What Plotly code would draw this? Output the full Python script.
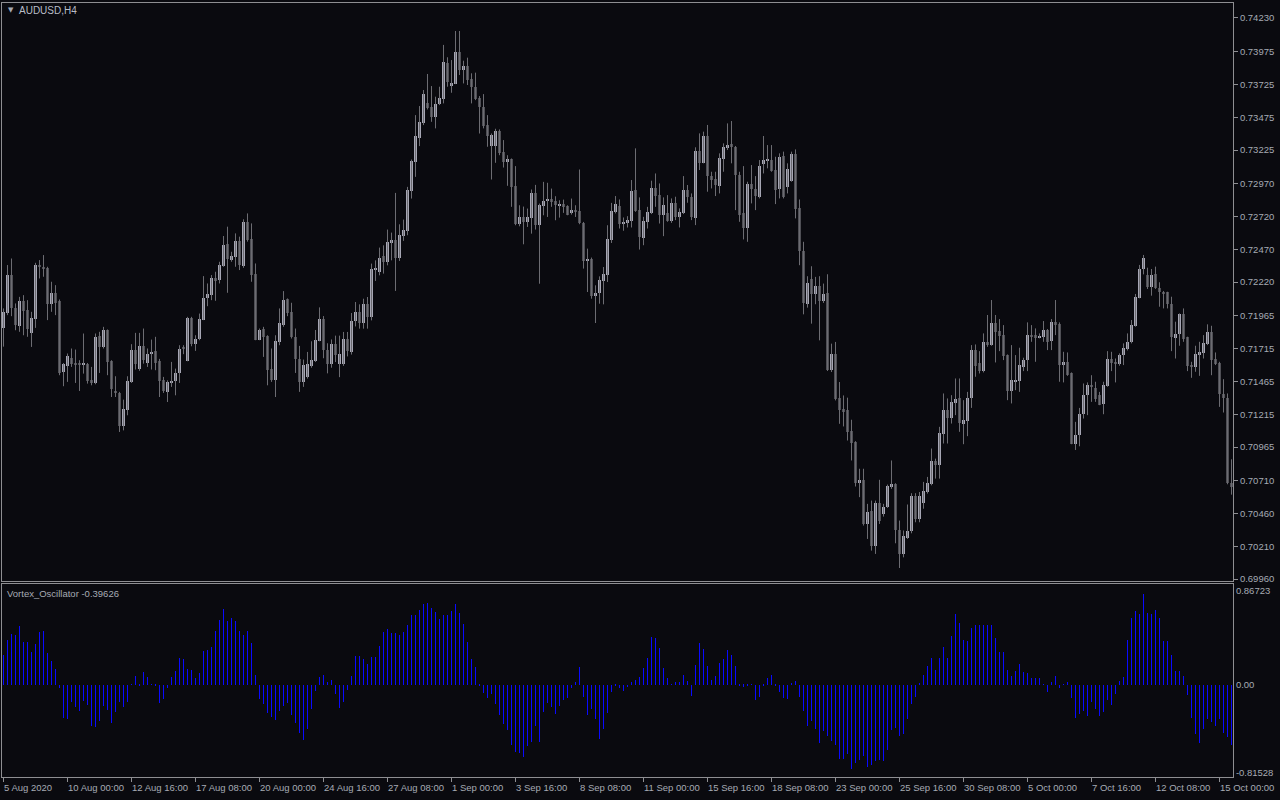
import plotly.graph_objects as go

# ---------------- data (AUDUSD H4, 5 Aug 2020 08:00 -> 15 Oct 2020) ----------------
open_ = [
 0.71873, 0.71987, 0.72274, 0.72020, 0.71885, 0.72075, 0.72007, 0.71834, 0.71938, 0.72342,
 0.72329, 0.72329, 0.72053, 0.72134, 0.72078, 0.71537, 0.71583, 0.71646, 0.71608, 0.71595,
 0.71590, 0.71600, 0.71473, 0.71453, 0.71809, 0.71727, 0.71854, 0.71618, 0.71379, 0.71379,
 0.71123, 0.71250, 0.71461, 0.71702, 0.71557, 0.71732, 0.71608, 0.71672, 0.71694, 0.71618,
 0.71473, 0.71385, 0.71458, 0.71466, 0.71529, 0.71717, 0.71618, 0.71951, 0.71748, 0.71786,
 0.71931, 0.72101, 0.72121, 0.72248, 0.72235, 0.72342, 0.72510, 0.72388, 0.72408, 0.72533,
 0.72342, 0.72677, 0.72548, 0.72281, 0.71783, 0.71862, 0.71809, 0.71557, 0.71473, 0.71766,
 0.71893, 0.72088, 0.71994, 0.71804, 0.71633, 0.71461, 0.71499, 0.71583, 0.71620, 0.71775,
 0.71942, 0.71704, 0.71597, 0.71749, 0.71600, 0.71597, 0.71784, 0.71692, 0.71921, 0.71990,
 0.71909, 0.72056, 0.71954, 0.72313, 0.72297, 0.72417, 0.72374, 0.72518, 0.72539, 0.72404,
 0.72569, 0.72610, 0.72915, 0.73136, 0.73318, 0.73433, 0.73580, 0.73550, 0.73478, 0.73572,
 0.73616, 0.73887, 0.73715, 0.73730, 0.73971, 0.73834, 0.73865, 0.73765, 0.73707, 0.73623,
 0.73550, 0.73415, 0.73255, 0.73255, 0.73369, 0.73209, 0.73135, 0.73156, 0.72950, 0.72661,
 0.72716, 0.72678, 0.72711, 0.72899, 0.72658, 0.72803, 0.72838, 0.72856, 0.72836, 0.72800,
 0.72813, 0.72798, 0.72747, 0.72772, 0.72760, 0.72673, 0.72381, 0.72394, 0.72114, 0.72137,
 0.72229, 0.72272, 0.72539, 0.72755, 0.72798, 0.72661, 0.72671, 0.72687, 0.72920, 0.72768,
 0.72557, 0.72679, 0.72748, 0.72933, 0.72882, 0.72730, 0.72743, 0.72687, 0.72826, 0.72712,
 0.72748, 0.72920, 0.72865, 0.72710, 0.73218, 0.73129, 0.73332, 0.73030, 0.73004, 0.72953,
 0.73157, 0.73243, 0.73271, 0.73251, 0.73035, 0.72748, 0.72633, 0.72966, 0.72925, 0.72870,
 0.73119, 0.73149, 0.73149, 0.73073, 0.72928, 0.73179, 0.72946, 0.72991, 0.73195, 0.72781,
 0.72458, 0.72052, 0.72247, 0.72128, 0.72191, 0.72077, 0.72138, 0.71549, 0.71676, 0.71341,
 0.71252, 0.71244, 0.71087, 0.71003, 0.70690, 0.70718, 0.70380, 0.70482, 0.70210, 0.70540,
 0.70457, 0.70507, 0.70660, 0.70685, 0.70335, 0.70152, 0.70271, 0.70325, 0.70596, 0.70419,
 0.70540, 0.70623, 0.70682, 0.70857, 0.70827, 0.71063, 0.71246, 0.71187, 0.71304, 0.71335,
 0.71144, 0.71164, 0.71342, 0.71703, 0.71601, 0.71543, 0.71761, 0.71741, 0.71906, 0.71848,
 0.71817, 0.71665, 0.71393, 0.71467, 0.71467, 0.71576, 0.71627, 0.71817, 0.71817, 0.71797,
 0.71802, 0.71855, 0.71771, 0.71914, 0.71898, 0.71596, 0.71609, 0.71525, 0.70987, 0.71055,
 0.71220, 0.71360, 0.71437, 0.71418, 0.71360, 0.71291, 0.71429, 0.71639, 0.71614, 0.71596,
 0.71665, 0.71711, 0.71761, 0.71886, 0.72102, 0.72320, 0.72274, 0.72186, 0.72279, 0.72178,
 0.72142, 0.72142, 0.72053, 0.71797, 0.71822, 0.71975, 0.71799, 0.71589, 0.71576, 0.71665,
 0.71683, 0.71749, 0.71838, 0.71632, 0.71601, 0.71368, 0.71340, 0.70695,
]

high = [
 0.72020, 0.72350, 0.72400, 0.72058, 0.72108, 0.72121, 0.72083, 0.71994, 0.72367, 0.72388,
 0.72426, 0.72337, 0.72223, 0.72197, 0.72088, 0.71605, 0.71677, 0.71715, 0.71707, 0.71626,
 0.71829, 0.71605, 0.71575, 0.71829, 0.71842, 0.71880, 0.71860, 0.71626, 0.71504, 0.71385,
 0.71326, 0.71504, 0.71748, 0.71834, 0.71834, 0.71867, 0.71715, 0.71783, 0.71804, 0.71636,
 0.71499, 0.71473, 0.71613, 0.71562, 0.71740, 0.71740, 0.71956, 0.71956, 0.71816, 0.71981,
 0.72266, 0.72210, 0.72274, 0.72299, 0.72375, 0.72571, 0.72642, 0.72451, 0.72591, 0.72566,
 0.72698, 0.72743, 0.72667, 0.72362, 0.71867, 0.71880, 0.71816, 0.71715, 0.71816, 0.72020,
 0.72152, 0.72096, 0.72063, 0.71867, 0.71735, 0.71631, 0.71689, 0.71770, 0.71856, 0.72028,
 0.71962, 0.71755, 0.71784, 0.71813, 0.71813, 0.71841, 0.71841, 0.71985, 0.72069, 0.72051,
 0.72094, 0.72107, 0.72361, 0.72386, 0.72483, 0.72500, 0.72620, 0.72597, 0.72899, 0.72660,
 0.72696, 0.72945, 0.73153, 0.73491, 0.73560, 0.73682, 0.73804, 0.73712, 0.73631, 0.73707,
 0.74025, 0.73931, 0.73910, 0.74131, 0.74131, 0.73905, 0.73928, 0.73809, 0.73814, 0.73636,
 0.73651, 0.73491, 0.73351, 0.73387, 0.73382, 0.73301, 0.73186, 0.73161, 0.73103, 0.72805,
 0.72795, 0.72780, 0.72925, 0.72960, 0.72818, 0.72983, 0.72976, 0.72932, 0.72874, 0.72843,
 0.72848, 0.72805, 0.72856, 0.72805, 0.73077, 0.72678, 0.72475, 0.72407, 0.72196, 0.72264,
 0.72335, 0.72653, 0.72823, 0.72875, 0.72849, 0.72712, 0.72722, 0.72997, 0.73238, 0.72865,
 0.72717, 0.72793, 0.72992, 0.73047, 0.72971, 0.72865, 0.72882, 0.72857, 0.72870, 0.72781,
 0.73027, 0.72959, 0.72895, 0.73246, 0.73352, 0.73365, 0.73416, 0.73060, 0.73060, 0.73200,
 0.73276, 0.73428, 0.73446, 0.73256, 0.73060, 0.73103, 0.72984, 0.73111, 0.73027, 0.73149,
 0.73332, 0.73263, 0.73263, 0.73174, 0.73200, 0.73213, 0.73124, 0.73213, 0.73230, 0.72849,
 0.72527, 0.72265, 0.72341, 0.72260, 0.72265, 0.72209, 0.72280, 0.71752, 0.71765, 0.71460,
 0.71358, 0.71341, 0.71173, 0.71010, 0.70800, 0.70800, 0.70533, 0.70558, 0.70558, 0.70716,
 0.70533, 0.70680, 0.70863, 0.70690, 0.70406, 0.70330, 0.70528, 0.70614, 0.70614, 0.70623,
 0.70700, 0.70738, 0.70954, 0.70877, 0.71119, 0.71373, 0.71335, 0.71360, 0.71487, 0.71487,
 0.71322, 0.71385, 0.71741, 0.71746, 0.71695, 0.71830, 0.71970, 0.72084, 0.71970, 0.71939,
 0.71893, 0.71670, 0.71741, 0.71665, 0.71721, 0.71645, 0.71914, 0.71893, 0.71868, 0.71830,
 0.71924, 0.71863, 0.71939, 0.72084, 0.71914, 0.71690, 0.71685, 0.71533, 0.71157, 0.71263,
 0.71449, 0.71457, 0.71512, 0.71462, 0.71385, 0.71462, 0.71695, 0.71690, 0.71639, 0.71678,
 0.71754, 0.71830, 0.71932, 0.72130, 0.72351, 0.72427, 0.72330, 0.72320, 0.72338, 0.72219,
 0.72153, 0.72147, 0.72109, 0.71919, 0.71982, 0.72020, 0.71805, 0.71614, 0.71736, 0.71766,
 0.71817, 0.71899, 0.71888, 0.71685, 0.71614, 0.71482, 0.71373, 0.70872,
]

low = [
 0.71729, 0.71969, 0.71961, 0.71854, 0.71842, 0.71816, 0.71804, 0.71727, 0.71872, 0.72248,
 0.72261, 0.71931, 0.71994, 0.71969, 0.71512, 0.71428, 0.71461, 0.71575, 0.71453, 0.71392,
 0.71524, 0.71448, 0.71435, 0.71443, 0.71529, 0.71715, 0.71512, 0.71346, 0.71346, 0.71080,
 0.71092, 0.71207, 0.71453, 0.71555, 0.71545, 0.71600, 0.71575, 0.71555, 0.71550, 0.71346,
 0.71377, 0.71308, 0.71423, 0.71359, 0.71453, 0.71672, 0.71618, 0.71732, 0.71697, 0.71778,
 0.71931, 0.72037, 0.72083, 0.72078, 0.72210, 0.72337, 0.72139, 0.72375, 0.72337, 0.72312,
 0.72329, 0.72528, 0.72223, 0.71778, 0.71778, 0.71651, 0.71435, 0.71461, 0.71346, 0.71740,
 0.71880, 0.71961, 0.71791, 0.71529, 0.71385, 0.71423, 0.71486, 0.71569, 0.71612, 0.71770,
 0.71641, 0.71526, 0.71569, 0.71612, 0.71497, 0.71583, 0.71655, 0.71669, 0.71883, 0.71866,
 0.71866, 0.71866, 0.71929, 0.72229, 0.72272, 0.72285, 0.72348, 0.72386, 0.72153, 0.72381,
 0.72534, 0.72577, 0.72856, 0.73021, 0.73255, 0.73415, 0.73534, 0.73440, 0.73390, 0.73567,
 0.73580, 0.73707, 0.73661, 0.73727, 0.73796, 0.73732, 0.73720, 0.73580, 0.73605, 0.73351,
 0.73390, 0.73250, 0.73001, 0.73128, 0.73186, 0.73092, 0.72953, 0.72793, 0.72653, 0.72645,
 0.72508, 0.72640, 0.72589, 0.72620, 0.72208, 0.72729, 0.72716, 0.72793, 0.72691, 0.72711,
 0.72747, 0.72729, 0.72734, 0.72716, 0.72661, 0.72323, 0.72145, 0.72094, 0.71909, 0.72056,
 0.72051, 0.72221, 0.72518, 0.72743, 0.72628, 0.72611, 0.72636, 0.72636, 0.72755, 0.72468,
 0.72501, 0.72628, 0.72738, 0.72793, 0.72666, 0.72570, 0.72679, 0.72671, 0.72692, 0.72636,
 0.72738, 0.72824, 0.72692, 0.72654, 0.73073, 0.73124, 0.72908, 0.72933, 0.72875, 0.72895,
 0.73060, 0.73225, 0.73124, 0.72768, 0.72679, 0.72545, 0.72527, 0.72819, 0.72768, 0.72857,
 0.73047, 0.73086, 0.73060, 0.72814, 0.72857, 0.72857, 0.72895, 0.72984, 0.72705, 0.72349,
 0.71975, 0.72026, 0.71904, 0.72052, 0.71777, 0.72062, 0.71544, 0.71536, 0.71320, 0.71142,
 0.71122, 0.71015, 0.70863, 0.70665, 0.70584, 0.70368, 0.70266, 0.70177, 0.70152, 0.70380,
 0.70436, 0.70502, 0.70647, 0.70233, 0.70045, 0.70126, 0.70266, 0.70309, 0.70393, 0.70393,
 0.70496, 0.70611, 0.70674, 0.70725, 0.70725, 0.70992, 0.70992, 0.71144, 0.71208, 0.71081,
 0.70987, 0.71048, 0.71263, 0.71500, 0.71525, 0.71533, 0.71728, 0.71736, 0.71609, 0.71695,
 0.71627, 0.71322, 0.71297, 0.71398, 0.71385, 0.71543, 0.71543, 0.71766, 0.71614, 0.71792,
 0.71766, 0.71703, 0.71703, 0.71817, 0.71462, 0.71457, 0.71507, 0.70987, 0.70943, 0.70971,
 0.71182, 0.71208, 0.71309, 0.71309, 0.71284, 0.71215, 0.71424, 0.71543, 0.71457, 0.71584,
 0.71589, 0.71700, 0.71754, 0.71881, 0.72097, 0.72279, 0.72168, 0.72117, 0.72168, 0.72033,
 0.72020, 0.72020, 0.71695, 0.71639, 0.71736, 0.71766, 0.71543, 0.71492, 0.71538, 0.71507,
 0.71639, 0.71741, 0.71512, 0.71589, 0.71271, 0.71228, 0.70682, 0.70603,
]

close = [
 0.71995, 0.72274, 0.72020, 0.71893, 0.72075, 0.71999, 0.71860, 0.71951, 0.72350, 0.72337,
 0.72322, 0.72053, 0.72134, 0.72065, 0.71532, 0.71595, 0.71656, 0.71600, 0.71588, 0.71593,
 0.71600, 0.71466, 0.71453, 0.71804, 0.71727, 0.71854, 0.71613, 0.71405, 0.71377, 0.71123,
 0.71258, 0.71466, 0.71702, 0.71595, 0.71732, 0.71626, 0.71672, 0.71692, 0.71608, 0.71466,
 0.71390, 0.71461, 0.71471, 0.71529, 0.71715, 0.71712, 0.71948, 0.71748, 0.71791, 0.71938,
 0.72103, 0.72129, 0.72248, 0.72228, 0.72350, 0.72502, 0.72395, 0.72418, 0.72533, 0.72350,
 0.72677, 0.72540, 0.72274, 0.71783, 0.71854, 0.71804, 0.71550, 0.71473, 0.71771, 0.71910,
 0.72083, 0.71989, 0.71799, 0.71633, 0.71461, 0.71588, 0.71595, 0.71626, 0.71778, 0.71942,
 0.71704, 0.71597, 0.71749, 0.71669, 0.71675, 0.71784, 0.71698, 0.71927, 0.71990, 0.71909,
 0.72056, 0.71954, 0.72318, 0.72318, 0.72407, 0.72374, 0.72523, 0.72539, 0.72404, 0.72577,
 0.72615, 0.72920, 0.73141, 0.73331, 0.73438, 0.73651, 0.73542, 0.73478, 0.73575, 0.73621,
 0.73895, 0.73740, 0.73738, 0.73971, 0.73834, 0.73865, 0.73758, 0.73707, 0.73613, 0.73550,
 0.73407, 0.73334, 0.73339, 0.73369, 0.73199, 0.73135, 0.73156, 0.72945, 0.72666, 0.72716,
 0.72678, 0.72716, 0.72899, 0.72658, 0.72805, 0.72836, 0.72856, 0.72831, 0.72805, 0.72813,
 0.72793, 0.72732, 0.72772, 0.72752, 0.72671, 0.72381, 0.72394, 0.72114, 0.72140, 0.72234,
 0.72280, 0.72551, 0.72760, 0.72811, 0.72666, 0.72677, 0.72692, 0.72915, 0.72763, 0.72560,
 0.72684, 0.72750, 0.72933, 0.72875, 0.72730, 0.72806, 0.72687, 0.72819, 0.72712, 0.72750,
 0.72920, 0.72870, 0.72712, 0.73218, 0.73129, 0.73332, 0.73030, 0.72997, 0.72959, 0.73167,
 0.73251, 0.73263, 0.73246, 0.73035, 0.72730, 0.72633, 0.72966, 0.72925, 0.72875, 0.73103,
 0.73149, 0.73154, 0.73068, 0.72920, 0.73174, 0.72865, 0.73080, 0.73195, 0.72776, 0.72458,
 0.72062, 0.72217, 0.72128, 0.72189, 0.72077, 0.72133, 0.71554, 0.71676, 0.71333, 0.71244,
 0.71239, 0.71079, 0.70995, 0.70690, 0.70718, 0.70380, 0.70474, 0.70210, 0.70540, 0.70401,
 0.70512, 0.70667, 0.70685, 0.70335, 0.70152, 0.70292, 0.70330, 0.70596, 0.70419, 0.70593,
 0.70628, 0.70695, 0.70857, 0.70827, 0.71073, 0.71246, 0.71187, 0.71309, 0.71330, 0.71149,
 0.71170, 0.71342, 0.71703, 0.71584, 0.71543, 0.71761, 0.71741, 0.71906, 0.71843, 0.71812,
 0.71660, 0.71393, 0.71474, 0.71474, 0.71589, 0.71627, 0.71817, 0.71805, 0.71797, 0.71812,
 0.71855, 0.71766, 0.71914, 0.71893, 0.71589, 0.71609, 0.71512, 0.70987, 0.71060, 0.71220,
 0.71365, 0.71437, 0.71424, 0.71330, 0.71289, 0.71437, 0.71639, 0.71601, 0.71601, 0.71665,
 0.71716, 0.71766, 0.71893, 0.72104, 0.72320, 0.72401, 0.72186, 0.72274, 0.72178, 0.72142,
 0.72135, 0.72053, 0.71805, 0.71822, 0.71975, 0.71787, 0.71584, 0.71573, 0.71670, 0.71685,
 0.71754, 0.71838, 0.71627, 0.71596, 0.71368, 0.71340, 0.70692, 0.70661,
]

vortex = [
 0.276, 0.415, 0.471, 0.462, 0.543, 0.400, 0.394, 0.307, 0.378, 0.487,
 0.496, 0.295, 0.223, 0.146, -0.031, -0.310, -0.313, -0.155, -0.205, -0.242,
 -0.149, -0.189, -0.381, -0.388, -0.335, -0.195, -0.233, -0.350, -0.251, -0.158,
 -0.205, -0.155, 0.005, 0.078, -0.010, 0.115, 0.068, 0.004, -0.010, -0.171,
 -0.133, -0.034, 0.068, 0.130, 0.245, 0.239, 0.146, 0.140, 0.062, 0.105,
 0.316, 0.322, 0.353, 0.502, 0.601, 0.704, 0.586, 0.617, 0.586, 0.493,
 0.465, 0.496, 0.388, 0.093, -0.127, -0.180, -0.257, -0.295, -0.329, -0.242,
 -0.195, -0.171, -0.282, -0.350, -0.443, -0.512, -0.412, -0.226, -0.056, 0.068,
 0.090, 0.028, 0.043, -0.087, -0.211, -0.158, -0.047, 0.078, 0.264, 0.264,
 0.239, 0.192, 0.254, 0.254, 0.357, 0.487, 0.518, 0.481, 0.481, 0.465,
 0.487, 0.549, 0.648, 0.648, 0.694, 0.750, 0.760, 0.710, 0.673, 0.605,
 0.648, 0.642, 0.682, 0.744, 0.667, 0.564, 0.400, 0.239, 0.167, -0.005,
 -0.078, -0.118, -0.081, -0.174, -0.282, -0.366, -0.422, -0.558, -0.623, -0.629,
 -0.670, -0.567, -0.530, -0.381, -0.527, -0.251, -0.171, -0.205, -0.273, -0.195,
 -0.140, -0.118, -0.031, 0.022, 0.161, -0.112, -0.279, -0.220, -0.319, -0.499,
 -0.412, -0.264, -0.071, -0.010, -0.031, -0.056, -0.019, 0.022, 0.047, 0.074,
 0.155, 0.248, 0.440, 0.431, 0.341, 0.152, 0.062, 0.005, 0.022, 0.022,
 0.090, 0.037, -0.102, 0.183, 0.388, 0.332, 0.171, 0.043, 0.084, 0.202,
 0.239, 0.322, 0.279, 0.171, -0.005, -0.016, -0.003, 0.006, -0.140, -0.109,
 -0.009, 0.059, 0.090, -0.009, -0.065, -0.118, -0.127, 0.016, 0.031, -0.109,
 -0.242, -0.381, -0.335, -0.412, -0.536, -0.428, -0.474, -0.521, -0.561, -0.682,
 -0.682, -0.636, -0.778, -0.722, -0.691, -0.660, -0.760, -0.738, -0.707, -0.698,
 -0.701, -0.598, -0.422, -0.403, -0.474, -0.459, -0.313, -0.180, -0.109, 0.012,
 0.090, 0.171, 0.245, 0.140, 0.245, 0.347, 0.245, 0.450, 0.657, 0.574,
 0.415, 0.409, 0.524, 0.555, 0.549, 0.549, 0.549, 0.555, 0.431, 0.307,
 0.307, 0.140, 0.078, 0.124, 0.192, 0.115, 0.109, 0.062, 0.062, 0.062,
 0.005, -0.065, 0.022, 0.078, -0.025, 0.006, 0.022, -0.118, -0.304, -0.267,
 -0.242, -0.288, -0.158, -0.226, -0.288, -0.251, -0.140, -0.189, -0.087, 0.037,
 0.068, 0.415, 0.620, 0.682, 0.651, 0.843, 0.663, 0.651, 0.694, 0.617,
 0.409, 0.403, 0.276, 0.130, 0.124, 0.078, -0.096, -0.310, -0.459, -0.536,
 -0.406, -0.313, -0.344, -0.381, -0.319, -0.450, -0.484, -0.552,
]

price_ticks = [0.74230, 0.73975, 0.73725, 0.73475, 0.73225, 0.72970, 0.72720, 0.72470, 0.72220,
               0.71965, 0.71715, 0.71465, 0.71215, 0.70965, 0.70710, 0.70460, 0.70210, 0.69960]
osc_ticks = [0.86723, 0.0, -0.81528]
osc_tick_text = ["0.86723", "0.00", "-0.81528"]
time_tick_bars = [0, 16, 32, 48, 64, 80, 96, 112, 128, 144, 160, 176, 192, 208, 224, 240, 256, 272, 288, 304]
time_tick_text = ["5 Aug 2020", "10 Aug 00:00", "12 Aug 16:00", "17 Aug 08:00", "20 Aug 00:00",
                  "24 Aug 16:00", "27 Aug 08:00", "1 Sep 00:00", "3 Sep 16:00", "8 Sep 08:00",
                  "11 Sep 00:00", "15 Sep 16:00", "18 Sep 08:00", "23 Sep 00:00", "25 Sep 16:00",
                  "30 Sep 08:00", "5 Oct 00:00", "7 Oct 16:00", "12 Oct 08:00", "15 Oct 00:00"]
symbol_label = "AUDUSD,H4"
indicator_label = "Vortex_Oscillator -0.39626"

# ---------------- styling ----------------
BG = "#0a0a0f"
FRAME = "#8e8e92"
TXT = "#a6aab4"
WICK = "#6c6c72"
BULL = "#a6a6b4"
BEAR = "#4f4f55"
OSC = "#0a0aff"
FONT = "Liberation Sans"

n = len(close)
bars = list(range(n))

# wicks
wx, wy = [], []
for i in bars:
    wx += [i, i, None]
    wy += [low[i], high[i], None]

min_body = 0.00008  # about one pixel so dojis stay visible
bx_up, base_up, h_up = [], [], []
bx_dn, base_dn, h_dn = [], [], []
for i in bars:
    o, c = open_[i], close[i]
    lo = min(o, c)
    hgt = max(abs(c - o), min_body)
    if c >= o:
        bx_up.append(i); base_up.append(lo); h_up.append(hgt)
    else:
        bx_dn.append(i); base_dn.append(lo); h_dn.append(hgt)

fig = go.Figure()
fig.add_trace(go.Scatter(x=wx, y=wy, mode="lines", line=dict(color=WICK, width=1),
                         hoverinfo="skip", xaxis="x", yaxis="y"))
fig.add_trace(go.Bar(x=bx_up, y=h_up, base=base_up, width=0.75, marker=dict(color=BULL, line=dict(width=0)),
                     xaxis="x", yaxis="y"))
fig.add_trace(go.Bar(x=bx_dn, y=h_dn, base=base_dn, width=0.75, marker=dict(color=BEAR, line=dict(width=0)),
                     xaxis="x", yaxis="y"))
fig.add_trace(go.Bar(x=bars, y=vortex, width=0.25, marker=dict(color=OSC, line=dict(width=0)),
                     xaxis="x2", yaxis="y2"))

W, H = 1280, 800
ml, mr, mt, mb = 2, 47, 3, 23
plot_h = H - mt - mb
price_bottom_px = 581
osc_top_px = 584
price_dom0 = (H - mb - price_bottom_px) / plot_h
osc_dom1 = (H - mb - osc_top_px) / plot_h

tickfont = dict(family=FONT, size=9.5, color=TXT)
common_x = dict(showgrid=False, zeroline=False, showline=True, linecolor=FRAME, linewidth=1,
                mirror=True, range=[-0.375, n - 0.625], fixedrange=True)

fig.update_layout(
    width=W, height=H,
    margin=dict(l=ml, r=mr, t=mt, b=mb, pad=0),
    paper_bgcolor=BG, plot_bgcolor=BG,
    showlegend=False, barmode="overlay", bargap=0,
    xaxis=dict(domain=[0, 1], anchor="y", showticklabels=False, ticks="", **common_x),
    yaxis=dict(domain=[price_dom0, 1], anchor="x", side="right", range=[0.69946, 0.74344],
               tickvals=price_ticks, ticktext=[f"{v:.5f}" for v in price_ticks],
               ticks="outside", ticklen=4, tickcolor=FRAME, tickfont=tickfont,
               showgrid=False, zeroline=False, showline=True, linecolor=FRAME, mirror=True),
    xaxis2=dict(domain=[0, 1], anchor="y2", tickvals=time_tick_bars, ticks="outside", ticklen=4,
                tickcolor=FRAME, showticklabels=False, **common_x),
    yaxis2=dict(domain=[0, osc_dom1], anchor="x2", side="right", range=[-0.85226, 0.93195],
                tickvals=osc_ticks, ticktext=osc_tick_text, ticks="", tickfont=tickfont,
                showgrid=False, zeroline=False, showline=True, linecolor=FRAME, mirror=True),
)

annotations = []
for pos, txt in zip(time_tick_bars, time_tick_text):
    annotations.append(dict(x=pos - 0.375, y=0, xref="x2", yref="paper", text=txt, showarrow=False,
                            xanchor="left", yanchor="top", yshift=-3, font=tickfont))

def px_x(p):
    return (p - ml) / (W - ml - mr)

def px_y(p):
    return (H - mb - p) / plot_h

annotations.append(dict(x=px_x(6), y=px_y(10), xref="paper", yref="paper", text="▼", showarrow=False,
                        xanchor="left", yanchor="middle", font=dict(family="DejaVu Sans", size=7, color=TXT)))
annotations.append(dict(x=px_x(17), y=px_y(10), xref="paper", yref="paper", text=symbol_label,
                        showarrow=False, xanchor="left", yanchor="middle",
                        font=dict(family=FONT, size=10, color="#b8bcc6")))
annotations.append(dict(x=px_x(5), y=px_y(593), xref="paper", yref="paper", text=indicator_label,
                        showarrow=False, xanchor="left", yanchor="middle",
                        font=dict(family=FONT, size=9.5, color=TXT)))
fig.update_layout(annotations=annotations)

fig.write_html(
    "out.html",
    config={"displayModeBar": False},
    post_script="document.body.style.margin='0';document.body.style.padding='0';"
                "document.body.style.background='#0a0a0f';document.body.style.overflow='hidden';"
                "window.dispatchEvent(new Event('resize'));",
)
